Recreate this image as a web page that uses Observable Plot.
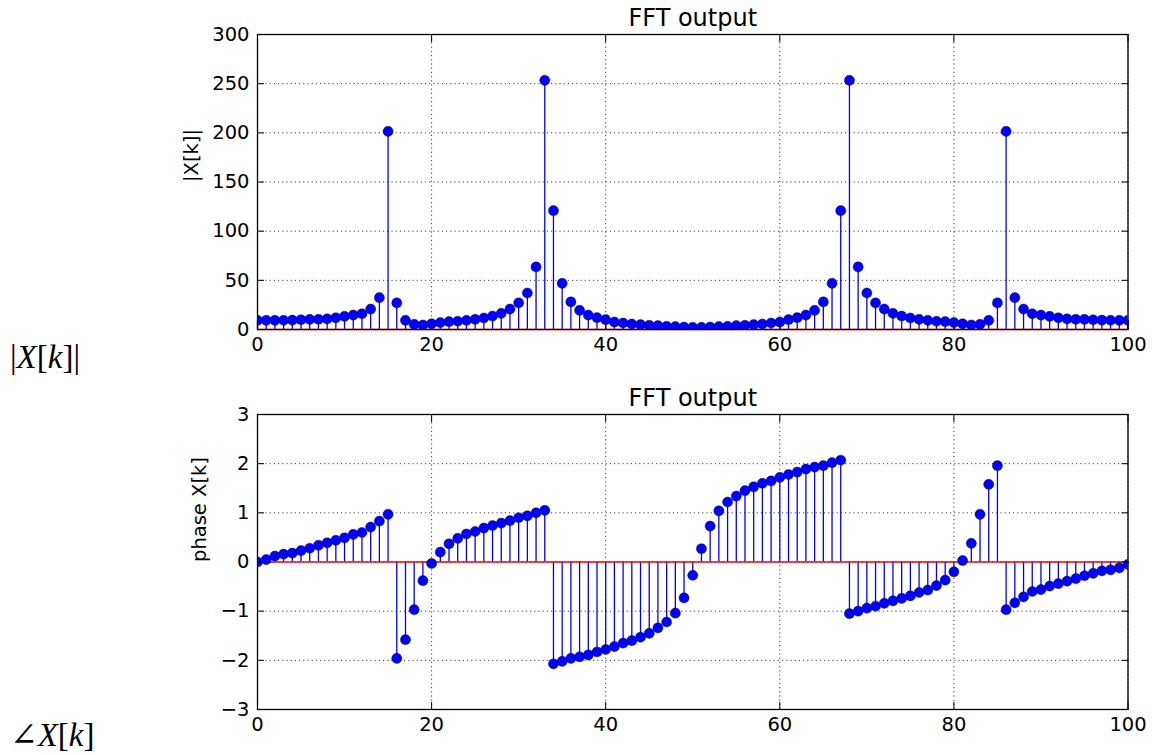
<!DOCTYPE html>
<html><head><meta charset="utf-8">
<script src="https://cdn.jsdelivr.net/npm/d3@7"></script>
<script src="https://cdn.jsdelivr.net/npm/@observablehq/plot@0.6"></script>
<style>
body{margin:0;background:#fff;}
#wrap{position:relative;width:1152px;height:755px;overflow:hidden;background:#fff}
.panel{position:absolute;left:0}
.cap{position:absolute;left:10px;font-family:"Liberation Serif","DejaVu Serif",serif;font-size:33px;color:#000;white-space:nowrap;line-height:1}
.cap i{font-style:italic}
</style></head><body>
<div id="wrap">
  <div id="p1" class="panel" style="top:0"></div>
  <div class="cap" style="top:341px">|<i>X</i>[<i>k</i>]|</div>
  <div id="p2" class="panel" style="top:380px"></div>
  <div class="cap" style="top:719px">∠<i>X</i>[<i>k</i>]</div>
</div>
<script>
// |X[k]| for k = 0..100
const magnitude = [
  9.3, 9.3, 9.3, 9.4, 9.5, 9.9, 10.2, 10.4, 10.8, 11.9,
  13.3, 14.7, 16.0, 20.8, 32.4, 201.5, 27.0, 9.3, 5.3, 4.6,
  5.8, 7.0, 8.0, 8.4, 9.3, 10.3, 11.7, 13.7, 16.4, 20.8,
  27.0, 37.1, 63.6, 253.4, 120.8, 47.0, 28.0, 19.5, 14.7, 12.0,
  10.0, 7.6, 6.6, 5.6, 4.9, 4.2, 3.9, 3.2, 2.9, 2.5,
  2.2, 2.2, 2.5, 2.9, 3.2, 3.9, 4.2, 4.9, 5.6, 6.6,
  7.6, 10.0, 12.0, 14.7, 19.5, 28.0, 47.0, 120.8, 253.4, 63.6,
  37.1, 27.0, 20.8, 16.4, 13.7, 11.7, 10.3, 9.3, 8.4, 8.0,
  7.0, 5.8, 4.6, 5.3, 9.3, 27.0, 201.5, 32.4, 20.8, 16.0,
  14.7, 13.3, 11.9, 10.8, 10.4, 10.2, 9.9, 9.5, 9.4, 9.3,
  9.3
];
// phase X[k] for k = 0..100
const phase = [
  0.00, 0.05, 0.12, 0.16, 0.18, 0.23, 0.28, 0.34, 0.39, 0.44,
  0.49, 0.56, 0.60, 0.71, 0.83, 0.97, -1.96, -1.58, -0.97, -0.38,
  -0.03, 0.20, 0.37, 0.48, 0.57, 0.62, 0.69, 0.74, 0.79, 0.84,
  0.90, 0.94, 1.00, 1.05, -2.07, -2.02, -1.96, -1.93, -1.89, -1.83,
  -1.78, -1.72, -1.65, -1.60, -1.53, -1.45, -1.34, -1.22, -1.04, -0.73,
  -0.27, 0.27, 0.73, 1.04, 1.22, 1.34, 1.45, 1.53, 1.60, 1.65,
  1.72, 1.78, 1.83, 1.89, 1.93, 1.96, 2.02, 2.07, -1.05, -1.00,
  -0.94, -0.90, -0.84, -0.79, -0.74, -0.69, -0.62, -0.57, -0.48, -0.37,
  -0.20, 0.03, 0.38, 0.97, 1.58, 1.96, -0.97, -0.83, -0.71, -0.60,
  -0.56, -0.49, -0.44, -0.39, -0.34, -0.28, -0.23, -0.18, -0.16, -0.12,
  -0.05
];
const xTicks = [0, 20, 40, 60, 80, 100];
const magTicks = [0, 50, 100, 150, 200, 250, 300];
const phaseTicks = [-3, -2, -1, 0, 1, 2, 3];
const titleText = "FFT output";
const magLabel = "|X[k]|";
const phaseLabel = "phase X[k]";

function panel(values, yDomain, yTicks, ylabel, labelDx) {
  const data = values.map((v, i) => ({k: i, v}));
  const tickStyle = {stroke: "#000", strokeWidth: 1, text: null, label: null};
  const gridStyle = {stroke: "#000", strokeOpacity: 0.75, strokeWidth: 1, strokeDasharray: "1.2,3"};
  return Plot.plot({
    width: 1152, height: 360,
    marginLeft: 257, marginRight: 24.5, marginTop: 34, marginBottom: 31,
    x: {domain: [0, 100]},
    y: {domain: yDomain},
    style: {fontFamily: "DejaVu Sans, sans-serif", fontSize: "19.5px", color: "#000", background: "#fff", overflow: "visible"},
    marks: [
      Plot.gridX(xTicks, gridStyle),
      Plot.gridY(yTicks, gridStyle),
      Plot.ruleX(data, {x: "k", y1: 0, y2: "v", stroke: "#0000ff", strokeWidth: 1.3}),
      Plot.ruleY([0], {stroke: "#ff0000", strokeWidth: 1.3}),
      Plot.dot(data, {x: "k", y: "v", r: 5.1, fill: "#0000ff", stroke: "#000", strokeWidth: 0.5, strokeOpacity: 0.7, clip: true}),
      Plot.frame({stroke: "#000", strokeWidth: 1.3}),
      Plot.axisX(xTicks, {anchor: "bottom", tickSize: 7, dy: -7, ...tickStyle}),
      Plot.axisX(xTicks, {anchor: "top", tickSize: 7, dy: 7, ...tickStyle}),
      Plot.axisY(yTicks, {anchor: "left", tickSize: 7, dx: 7, ...tickStyle}),
      Plot.axisY(yTicks, {anchor: "right", tickSize: 7, dx: -7, ...tickStyle}),
      Plot.axisX(xTicks, {anchor: "bottom", tickSize: 0, tickPadding: 8, label: null, fill: "#000"}),
      Plot.axisY(yTicks, {anchor: "left", tickSize: 0, tickPadding: 8, label: null, fill: "#000"}),
      Plot.text([titleText], {text: d => d, frameAnchor: "top", dy: -16.5, lineAnchor: "middle", fontSize: 24, fill: "#000"}),
      Plot.text([ylabel], {text: d => d, frameAnchor: "left", dx: labelDx, rotate: -90, lineAnchor: "middle", fontSize: 19.5, fill: "#000"})
    ]
  });
}

document.getElementById("p1").append(panel(magnitude, [0, 300], magTicks, magLabel, -66));
document.getElementById("p2").append(panel(phase, [-3, 3], phaseTicks, phaseLabel, -58));
</script>
</body></html>
